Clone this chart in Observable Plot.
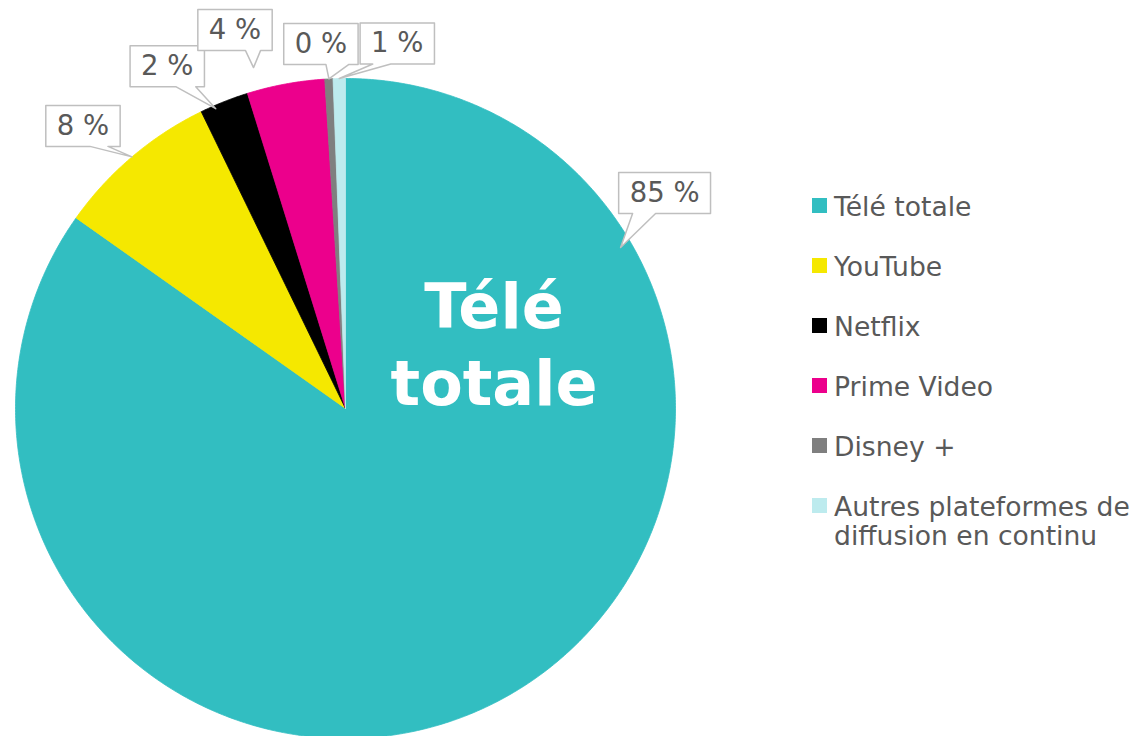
<!DOCTYPE html>
<html>
<head>
<meta charset="utf-8">
<script src="https://cdn.jsdelivr.net/npm/d3@7"></script>
<script src="https://cdn.jsdelivr.net/npm/@observablehq/plot@0.6"></script>
<style>
  html, body { margin: 0; padding: 0; background: #ffffff; }
  #wrap { position: relative; width: 1138px; height: 736px; overflow: hidden; }
  #legend { position: absolute; left: 812px; top: 191.5px; width: 326px;
    font-family: "DejaVu Sans", Verdana, sans-serif; font-size: 26.6px; line-height: 29px; color: #595959; }
  .item { position: relative; padding-left: 22px; margin-bottom: 31px; width: 304px; }
  .sw { position: absolute; left: 0; top: 6.5px; width: 15px; height: 15px; }
</style>
</head>
<body>
<div id="wrap"><div id="chart"></div><div id="legend"></div></div>
<script>
// ---- data ----
const categories = ["Télé totale", "YouTube", "Netflix", "Prime Video", "Disney +", "Autres plateformes de diffusion en continu"];
const shares = [84.8, 8.0, 2.4, 3.8, 0.4, 0.6];
const valueLabels = ["85 %", "8 %", "2 %", "4 %", "0 %", "1 %"];
const colors = ["#32BEC1", "#F5E800", "#000000", "#EC008C", "#7F7F7F", "#BDEBEE"];
const centerLabel = "Télé\ntotale";

// ---- layout (callout placement, px offsets) ----
const R = 330; // pixels per data unit (pie radius)
const calloutLayout = [
  {tipAngle: 59.65, tipR: 0.966, dx: 44, dy: -54.5, base: [-32, -9]},
  {tipAngle: null, tipR: 1.0, dx: -49, dy: -31, base: [7, 25]},
  {tipAngle: -23.4, tipR: 0.99, dx: -48.5, dy: -42.5, base: [8.5, 28.5]},
  {tipAngle: -15.1, tipR: 1.07, dx: -18.5, dy: -37.5, base: [10.5, 25.5]},
  {tipAngle: null, tipR: 1.0, dx: -8, dy: -35, base: [5, 28]},
  {tipAngle: null, tipR: 1.0, dx: 58, dy: -35, base: [-24.5, -6.5]}
];

// ---- slices ----
const total = d3.sum(shares);
let acc = 0;
const slices = categories.map((name, i) => {
  const a0 = acc / total * 360;
  acc += shares[i];
  const a1 = acc / total * 360;
  return {name, a0, a1, mid: (a0 + a1) / 2};
});
const rad = a => a * Math.PI / 180;
const pol = (a, r) => [r * Math.sin(rad(a)), r * Math.cos(rad(a))];

const slicePts = [];
slices.forEach(s => {
  slicePts.push({name: s.name, x: 0, y: 0});
  const n = Math.max(2, Math.ceil((s.a1 - s.a0) / 0.5));
  for (let k = 0; k <= n; k++) {
    const a = s.a0 + (s.a1 - s.a0) * k / n;
    const [x, y] = pol(a, 1);
    slicePts.push({name: s.name, x, y});
  }
  slicePts.push({name: s.name, x: 0, y: 0});
});

// ---- callouts ----
const ctx = document.createElement("canvas").getContext("2d");
ctx.font = "27.5px 'DejaVu Sans'";
const calloutPts = [];
const calloutText = [];
slices.forEach((s, i) => {
  const L = calloutLayout[i];
  const ang = L.tipAngle == null ? s.mid : L.tipAngle;
  const [tx, ty] = pol(ang, L.tipR);
  const w = ctx.measureText(valueLabels[i]).width + 22;
  const h = 41;
  const toData = (px, py) => ({name: s.name, x: tx + (L.dx + px) / R, y: ty - (L.dy + py) / R});
  const pts = [
    [-w / 2, -h / 2], [w / 2, -h / 2], [w / 2, h / 2], [L.base[1], h / 2],
    [-L.dx, -L.dy], [L.base[0], h / 2], [-w / 2, h / 2], [-w / 2, -h / 2]
  ];
  pts.forEach(([px, py]) => calloutPts.push(toData(px, py)));
  calloutText.push({text: valueLabels[i], x: tx + L.dx / R, y: ty - L.dy / R});
});

const chart = Plot.plot({
  width: 1138,
  height: 736,
  margin: 0,
  style: {background: "transparent"},
  x: {domain: [-1, 1], range: [15, 675], axis: null},
  y: {domain: [-1, 1], range: [738, 78], axis: null},
  color: {domain: categories, range: colors},
  marks: [
    Plot.line(slicePts, {x: "x", y: "y", z: "name", fill: "name", stroke: "name", strokeWidth: 0.8, curve: "linear"}),
    Plot.line(calloutPts, {x: "x", y: "y", z: "name", fill: "white", stroke: "#BFBFBF", strokeWidth: 1.5, curve: "linear"}),
    Plot.text(calloutText, {x: "x", y: "y", text: "text", fill: "#595959", fontSize: 27.5, fontFamily: "DejaVu Sans"}),
    Plot.text([centerLabel], {x: () => 0.45, y: () => 0.2015, text: d => d, fill: "white", fontSize: 62, fontWeight: "bold", fontFamily: "DejaVu Sans", lineHeight: 1.24})
  ]
});
document.getElementById("chart").appendChild(chart);

// ---- legend ----
const legend = d3.select("#legend");
categories.forEach((c, i) => {
  const it = legend.append("div").attr("class", "item");
  it.append("div").attr("class", "sw").style("background", colors[i]);
  it.append("span").text(c);
});
</script>
</body>
</html>
